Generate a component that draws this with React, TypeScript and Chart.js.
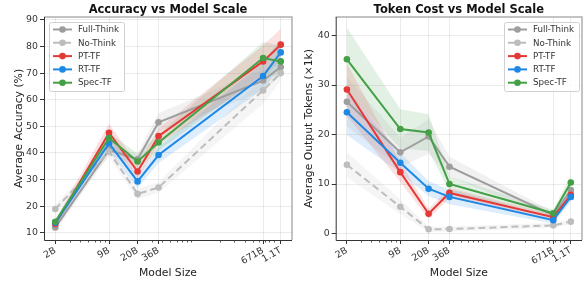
import React, { useEffect, useRef } from "react";
import { Chart, registerables } from "chart.js";
Chart.register(...registerables);

const FONT = "'DejaVu Sans', sans-serif";

// ---- data ----
const modelSizes = [2, 9, 20, 36, 671, 1100]; // billions of parameters
const sizeLabels = ["2B", "9B", "20B", "36B", "671B", "1.1T"];
const minorTickValues = [3, 4, 5, 6, 7, 8, 30, 40, 50, 60, 70, 80, 90, 200, 300, 400, 500, 600, 700, 800, 900];

const seriesNames = ["Full-Think", "No-Think", "PT-TF", "RT-TF", "Spec-TF"];
const seriesColors = ["#9e9e9e", "#bdbdbd", "#e53935", "#1e88e5", "#43a047"];
const seriesRgb = ["158,158,158", "189,189,189", "229,57,53", "30,136,229", "67,160,71"];

const accFullThink = [12.0, 41.1, 37.6, 51.5, 67.2, 72.3];
const accNoThink = [18.9, 40.5, 24.6, 27.0, 63.5, 70.0];
const accPT = [13.3, 47.6, 33.0, 46.3, 74.4, 80.7];
const accRT = [13.7, 43.6, 29.3, 39.2, 68.9, 77.8];
const accSpec = [14.1, 45.6, 36.8, 43.9, 75.7, 74.4];

const accStdFullThink = [1.5, 2.0, 2.0, 3.5, 4.0, 3.0];
const accStdNoThink = [1.5, 2.0, 2.0, 2.0, 5.0, 3.0];
const accStdPT = [1.5, 3.5, 2.5, 3.0, 6.0, 6.0];
const accStdRT = [1.0, 3.0, 2.5, 3.0, 5.0, 5.0];
const accStdSpec = [1.0, 2.0, 3.0, 3.0, 6.0, 6.0];

const tokFullThink = [26.6, 16.4, 19.6, 13.5, 3.7, 8.8];
const tokNoThink = [13.9, 5.4, 0.85, 0.9, 1.65, 2.4];
const tokPT = [29.1, 12.4, 4.0, 8.2, 3.3, 7.8];
const tokRT = [24.5, 14.3, 9.05, 7.4, 2.7, 7.4];
const tokSpec = [35.2, 21.1, 20.4, 10.0, 4.1, 10.3];

const tokStdFullThink = [5.0, 3.0, 3.5, 2.0, 0.7, 1.0];
const tokStdNoThink = [2.5, 1.5, 0.5, 0.5, 0.5, 0.5];
const tokStdPT = [5.3, 2.0, 1.0, 1.0, 0.5, 1.0];
const tokStdRT = [4.6, 2.0, 1.5, 1.5, 0.7, 1.0];
const tokStdSpec = [6.4, 4.0, 3.7, 1.5, 0.7, 1.5];

const accTicks = [10, 20, 30, 40, 50, 60, 70, 80, 90];
const tokTicks = [0, 10, 20, 30, 40];

// ---- plugins ----
const titlePlugin = {
  id: "axTitle",
  afterDraw(chart: any, _a: any, opts: any) {
    const { ctx, chartArea: a } = chart;
    ctx.save();
    ctx.font = `bold 11.5px ${FONT}`;
    ctx.fillStyle = "#111";
    ctx.textAlign = "center";
    ctx.textBaseline = "alphabetic";
    ctx.fillText(opts.text, (a.left + a.right) / 2, 12.7);
    ctx.restore();
  },
};

const spinesPlugin = {
  id: "spines",
  afterDatasetsDraw(chart: any) {
    const { ctx, chartArea: a } = chart;
    ctx.save();
    ctx.strokeStyle = "#b0b0b0";
    ctx.lineWidth = 1.5;
    ctx.beginPath();
    ctx.moveTo(a.left, a.top);
    ctx.lineTo(a.right, a.top);
    ctx.lineTo(a.right, a.bottom);
    ctx.stroke();
    ctx.strokeStyle = "#333";
    ctx.lineWidth = 1;
    ctx.beginPath();
    ctx.moveTo(a.left + 0.5, a.top);
    ctx.lineTo(a.left + 0.5, a.bottom + 0.5);
    ctx.lineTo(a.right, a.bottom + 0.5);
    ctx.stroke();
    // minor x ticks
    const xs = chart.scales.x;
    ctx.lineWidth = 0.8;
    ctx.beginPath();
    minorTickValues.forEach((v) => {
      const px = Math.round(xs.getPixelForValue(v)) + 0.5;
      ctx.moveTo(px, a.bottom);
      ctx.lineTo(px, a.bottom + 2.5);
    });
    ctx.stroke();
    ctx.restore();
  },
};

const legendPlugin = {
  id: "boxLegend",
  afterDraw(chart: any, _a: any, opts: any) {
    const { ctx, chartArea: a } = chart;
    const items = chart.data.datasets.filter((d: any) => d.isMain);
    const w = 75;
    const rowH = 13.3;
    const h = 69;
    const x0 = opts.align === "right" ? a.right - 3 - w : a.left + 5;
    const y0 = a.top + 5;
    ctx.save();
    ctx.fillStyle = "rgba(255,255,255,0.85)";
    ctx.strokeStyle = "#d0d0d0";
    ctx.lineWidth = 1;
    ctx.beginPath();
    (ctx as any).roundRect(x0 + 0.5, y0 + 0.5, w, h, 2);
    ctx.fill();
    ctx.stroke();
    ctx.font = `8.7px ${FONT}`;
    ctx.textBaseline = "middle";
    ctx.textAlign = "left";
    items.forEach((d: any, i: number) => {
      const cy = y0 + 7.5 + i * rowH;
      ctx.strokeStyle = d.borderColor;
      ctx.lineWidth = 2;
      ctx.setLineDash(d.borderDash || []);
      ctx.beginPath();
      ctx.moveTo(x0 + 4, cy);
      ctx.lineTo(x0 + 23, cy);
      ctx.stroke();
      ctx.setLineDash([]);
      ctx.fillStyle = d.borderColor;
      ctx.beginPath();
      ctx.arc(x0 + 13.5, cy, 3.3, 0, Math.PI * 2);
      ctx.fill();
      ctx.fillStyle = "#333";
      ctx.fillText(d.label, x0 + 29, cy + 0.5);
    });
    ctx.restore();
  },
};

function buildDatasets(values: number[][], stds: number[][]) {
  const lines: any[] = [];
  const bands: any[] = [];
  const orders = [5, 4, 3, 2, 1];
  values.forEach((vals, k) => {
    lines.push({
      label: seriesNames[k],
      data: modelSizes.map((x, i) => ({ x, y: vals[i] })),
      borderColor: seriesColors[k],
      backgroundColor: seriesColors[k],
      pointBackgroundColor: seriesColors[k],
      borderWidth: 2,
      borderDash: k === 1 ? [7, 4] : [],
      pointRadius: 3.3,
      pointBorderWidth: 0,
      fill: false,
      tension: 0,
      order: orders[k],
      isMain: true,
    });
  });
  const n = lines.length;
  values.forEach((vals, k) => {
    const upIdx = n + bands.length;
    bands.push({
      label: seriesNames[k] + " upper",
      data: modelSizes.map((x, i) => ({ x, y: vals[i] + stds[k][i] })),
      borderColor: "transparent",
      borderWidth: 0,
      pointRadius: 0,
      fill: false,
      order: 20 + k,
    });
    bands.push({
      label: seriesNames[k] + " lower",
      data: modelSizes.map((x, i) => ({ x, y: vals[i] - stds[k][i] })),
      borderColor: "transparent",
      borderWidth: 0,
      pointRadius: 0,
      backgroundColor: `rgba(${seriesRgb[k]},0.15)`,
      fill: upIdx,
      order: 20 + k,
    });
  });
  return [...lines, ...bands];
}

type PanelProps = {
  width: number;
  title: string;
  yTitle: string;
  yMin: number;
  yMax: number;
  yTicks: number[];
  padLeft: number;
  padRight: number;
  yAxisWidth: number;
  legendAlign: "left" | "right";
  values: number[][];
  stds: number[][];
};

function Panel(p: PanelProps) {
  const ref = useRef<HTMLCanvasElement>(null);
  useEffect(() => {
    if (!ref.current) return;
    const tickFont = { family: FONT, size: 9.4 };
    const titleFont = { family: FONT, size: 10.8 };
    const grid = { color: "rgba(0,0,0,0.08)", tickColor: "#333", tickLength: 4, lineWidth: 1 };
    const chart = new Chart(ref.current, {
      type: "line",
      data: { datasets: buildDatasets(p.values, p.stds) as any },
      options: {
        responsive: false,
        animation: false,
        events: [],
        layout: { padding: { left: p.padLeft, right: p.padRight, top: 17, bottom: 2.4 } },
        scales: {
          x: {
            type: "logarithmic",
            bounds: "data",
            min: 1.459,
            max: 1507,
            afterBuildTicks: (s: any) => {
              s.ticks = modelSizes.map((v) => ({ value: v }));
            },
            afterFit: (s: any) => {
              s.height = 39.6;
            },
            ticks: {
              autoSkip: false,
              minRotation: 30,
              maxRotation: 30,
              padding: 1,
              font: tickFont,
              color: "#333",
              callback: (v: any) => {
                const i = modelSizes.indexOf(Number(v));
                return i >= 0 ? sizeLabels[i] : "";
              },
            },
            grid,
            border: { display: false },
            title: { display: true, text: "Model Size", font: titleFont, color: "#222", padding: 0 },
          },
          y: {
            type: "linear",
            bounds: "data",
            min: p.yMin,
            max: p.yMax,
            afterBuildTicks: (s: any) => {
              s.ticks = p.yTicks.map((v) => ({ value: v }));
            },
            afterFit: (s: any) => {
              s.width = p.yAxisWidth;
            },
            ticks: { font: tickFont, color: "#333", padding: 2 },
            grid,
            border: { display: false },
            title: { display: true, text: p.yTitle, font: titleFont, color: "#222", padding: 0 },
          },
        },
        plugins: {
          legend: { display: false },
          tooltip: { enabled: false },
          axTitle: { text: p.title },
          boxLegend: { align: p.legendAlign },
        } as any,
      },
      plugins: [titlePlugin, spinesPlugin, legendPlugin],
    });
    return () => chart.destroy();
  }, []);
  return <canvas ref={ref} width={p.width} height={282} style={{ display: "block", width: p.width, height: 282 }} />;
}

export default function App() {
  return (
    <div style={{ position: "absolute", left: 0, top: 0, width: 586, height: 282, display: "flex", background: "#fff" }}>
      <Panel
        width={296}
        title="Accuracy vs Model Scale"
        yTitle="Average Accuracy (%)"
        yMin={7.26}
        yMax={91.1}
        yTicks={accTicks}
        padLeft={13}
        padRight={2}
        yAxisWidth={31}
        legendAlign="left"
        values={[accFullThink, accNoThink, accPT, accRT, accSpec]}
        stds={[accStdFullThink, accStdNoThink, accStdPT, accStdRT, accStdSpec]}
      />
      <Panel
        width={290}
        title="Token Cost vs Model Scale"
        yTitle="Average Output Tokens (×1k)"
        yMin={-1.31}
        yMax={43.74}
        yTicks={tokTicks}
        padLeft={7}
        padRight={1}
        yAxisWidth={32.7}
        legendAlign="right"
        values={[tokFullThink, tokNoThink, tokPT, tokRT, tokSpec]}
        stds={[tokStdFullThink, tokStdNoThink, tokStdPT, tokStdRT, tokStdSpec]}
      />
    </div>
  );
}
